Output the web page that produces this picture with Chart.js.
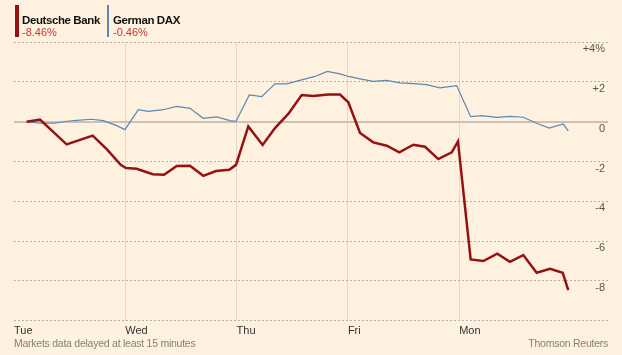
<!DOCTYPE html>
<html>
<head>
<meta charset="utf-8">
<script src="https://cdn.jsdelivr.net/npm/chart.js@4/dist/chart.umd.min.js"></script>
<style>
  html, body { margin: 0; padding: 0; background: #fff1e0; }
  #wrap { position: relative; width: 622px; height: 355px; overflow: hidden;
          font-family: "Liberation Sans", Arial, sans-serif; }
  canvas { position: absolute; left: 0; top: 0; }
  .key { position: absolute; top: 5px; height: 32px; padding-left: 3px; }
  .key b { display: block; font-size: 11.5px; line-height: 12px; margin-top: 9px; color: #111; letter-spacing: -0.4px; }
  .key span { display: block; font-size: 11px; line-height: 11px; margin-top: 1px; color: #c23a33; }
  .foot { position: absolute; top: 337px; font-size: 10.5px; color: #858079; letter-spacing: -0.25px; }
</style>
</head>
<body>
<div id="wrap">
  <canvas id="grafica" width="622" height="355"></canvas>
  <div class="key" style="left:15px;border-left:4px solid #951212;">
    <b>Deutsche Bank</b><span>-8.46%</span>
  </div>
  <div class="key" style="left:107px;border-left:2px solid #5d88b1;padding-left:4px;">
    <b>German DAX</b><span>-0.46%</span>
  </div>
  <div class="foot" style="left:14px;">Markets data delayed at least 15 minutes</div>
  <div class="foot" style="right:14px;">Thomson Reuters</div>
</div>
<script>
// dias de mercado (x = dias desde el martes)
var dias = ['Tue', 'Wed', 'Thu', 'Fri', 'Mon'];

// Deutsche Bank, % de cambio
var dbX = [0.114, 0.234, 0.473, 0.707, 0.833, 0.959, 1.006, 1.102, 1.246, 1.348,
  1.462, 1.581, 1.701, 1.815, 1.934, 1.995, 2.105, 2.234, 2.345, 2.464,
  2.585, 2.689, 2.824, 2.929, 3.004, 3.109, 3.228, 3.349, 3.462, 3.588,
  3.693, 3.812, 3.933, 3.989, 4.103, 4.217, 4.342, 4.456, 4.576, 4.696,
  4.816, 4.930, 4.980];
var dbY = [0, 0.1, -1.14, -0.7, -1.38, -2.17, -2.33, -2.37, -2.64, -2.67,
  -2.23, -2.22, -2.72, -2.48, -2.42, -2.17, -0.24, -1.17, -0.32, 0.39,
  1.34, 1.29, 1.36, 1.36, 0.97, -0.57, -1.04, -1.21, -1.54, -1.16,
  -1.26, -1.88, -1.54, -0.99, -6.92, -7.0, -6.63, -7.04, -6.7, -7.59,
  -7.39, -7.59, -8.46];

// German DAX, % de cambio
var daxX = [0.114, 0.234, 0.368, 0.473, 0.593, 0.698, 0.802, 0.923, 0.997, 1.117,
  1.207, 1.341, 1.462, 1.581, 1.701, 1.821, 1.941, 1.995, 2.114, 2.226,
  2.345, 2.450, 2.585, 2.704, 2.815, 2.929, 3.004, 3.109, 3.228, 3.349,
  3.468, 3.588, 3.708, 3.827, 3.977, 4.103, 4.202, 4.337, 4.456, 4.576,
  4.696, 4.809, 4.935, 4.980];
var daxY = [0, -0.08, -0.08, 0.02, 0.08, 0.12, 0.05, -0.2, -0.4, 0.6,
  0.52, 0.6, 0.77, 0.67, 0.17, 0.24, 0.05, 0.02, 1.34, 1.26,
  1.9, 1.9, 2.1, 2.27, 2.52, 2.4, 2.27, 2.15, 2.02, 2.07,
  1.95, 1.91, 1.86, 1.7, 1.81, 0.25, 0.3, 0.22, 0.27, 0.22,
  -0.08, -0.32, -0.12, -0.46];

var yTicks = [4, 2, 0, -2, -4, -6, -8, -10];
var yLabels = ['+4%', '+2', '0', '-2', '-4', '-6', '-8', ''];

function puntos(xs, ys) {
  var out = [];
  for (var i = 0; i < xs.length; i++) out.push({ x: xs[i], y: ys[i] });
  return out;
}

var fuente = "'Liberation Sans', Arial, sans-serif";
var ctx = document.getElementById('grafica').getContext('2d');

new Chart(ctx, {
  type: 'line',
  data: {
    datasets: [
      {
        label: 'Deutsche Bank',
        data: puntos(dbX, dbY),
        borderColor: '#951212',
        borderWidth: 2.5,
        pointRadius: 0,
        tension: 0
      },
      {
        label: 'German DAX',
        data: puntos(daxX, daxY),
        borderColor: '#5d88b1',
        borderWidth: 1.2,
        pointRadius: 0,
        tension: 0
      }
    ]
  },
  options: {
    responsive: false,
    animation: false,
    devicePixelRatio: 1,
    layout: { padding: { left: 14, right: 14, top: 42, bottom: 13 } },
    plugins: { legend: { display: false }, tooltip: { enabled: false } },
    scales: {
      x: {
        type: 'linear',
        min: 0,
        max: 5.337,
        afterBuildTicks: function (s) {
          s.ticks = dias.map(function (d, i) { return { value: i }; });
        },
        grid: {
          drawTicks: false,
          color: function (c) { return c.tick && c.tick.value === 0 ? 'rgba(0,0,0,0)' : '#e6d8c8'; },
          lineWidth: 1
        },
        border: { display: false },
        ticks: {
          autoSkip: false,
          maxRotation: 0,
          align: 'start',
          padding: 4,
          color: '#333',
          font: { family: fuente, size: 11 },
          callback: function (v) { return dias[v]; }
        }
      },
      y: {
        position: 'right',
        min: -10,
        max: 4,
        afterBuildTicks: function (s) {
          s.ticks = yTicks.map(function (v) { return { value: v }; });
        },
        afterFit: function (s) { s.width = 0; },
        grid: {
          drawTicks: false,
          color: function (c) { return c.tick && c.tick.value === 0 ? 'rgba(0,0,0,0)' : '#bdb1a4'; },
          lineWidth: 1
        },
        border: { display: false, dash: [2, 2] },
        ticks: {
          mirror: true,
          padding: -3,
          labelOffset: 7,
          color: '#555',
          font: { family: fuente, size: 11 },
          callback: function (v) { return yLabels[yTicks.indexOf(v)]; }
        }
      },
      cero: {
        position: 'right',
        min: -10,
        max: 4,
        afterBuildTicks: function (s) { s.ticks = [{ value: 0 }]; },
        afterFit: function (s) { s.width = 0; },
        grid: { drawTicks: false, color: '#cbc1b4', lineWidth: 2 },
        border: { display: false },
        ticks: { display: false }
      }
    }
  }
});
</script>
</body>
</html>
